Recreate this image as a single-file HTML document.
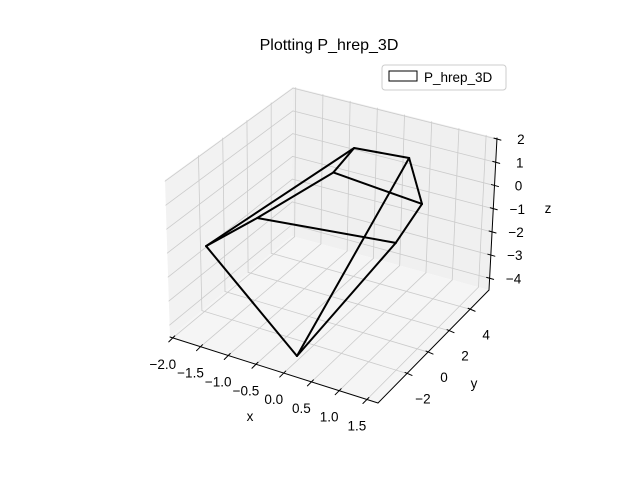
<!DOCTYPE html>
<html><head><meta charset="utf-8"><style>
body{margin:0;background:#fff}
svg text{font-family:"Liberation Sans","DejaVu Sans",sans-serif;fill:#000}
</style></head><body>
<svg id="chart" width="640" height="480" viewBox="0 0 640 480" xmlns="http://www.w3.org/2000/svg">
<rect width="640" height="480" fill="#fff"/>
<text x="329" y="50" font-size="16" text-anchor="middle">Plotting P_hrep_3D</text>
<g id="box"></g>
<g id="series"></g>
<g>
<rect x="382" y="65" width="124" height="25" rx="3" fill="#fff" fill-opacity="0.8" stroke="#ccc"/>
<rect x="389" y="71" width="28" height="10" fill="#fff" stroke="#000"/>
<text x="424" y="82" font-size="13.5">P_hrep_3D</text>
</g>
</svg>
<script>
const xTicks=[-2.0,-1.5,-1.0,-0.5,0.0,0.5,1.0,1.5];
const yTicks=[-2,0,2,4];
const zTicks=[-4,-3,-2,-1,0,1,2];
const xLabels=["−2.0","−1.5","−1.0","−0.5","0.0","0.5","1.0","1.5"];
const yLabels=["−2","0","2","4"];
const zLabels=["−4","−3","−2","−1","0","1","2"];
const vx=[-1.65,-1.65,-0.57,-0.29,0.60,0.75,0.59,0.11];
const vy=[-3.30,1.52,3.16,3.71,4.24,4.58,2.88,-4.09];
const vz=[-1,-2,0,1,1,-1,-2,-4];
const edgeFrom=[0,1,0,1,2,2,3,4,5,6,4,0];
const edgeTo=[1,2,3,6,3,5,4,5,6,7,7,7];
const XR=[-2.05,1.7],YR=[-4.76,5.8],ZR=[-4.5,2.05];
const C={"000":[170,337],"100":[378,403],"110":[489,290],"010":[292,236],"001":[165,180],"101":[383,246],"111":[497,138],"011":[293,87]};
function lerp(a,b,t){return [a[0]+(b[0]-a[0])*t,a[1]+(b[1]-a[1])*t];}
function proj(x,y,z){
 const u=(x-XR[0])/(XR[1]-XR[0]),v=(y-YR[0])/(YR[1]-YR[0]),w=(z-ZR[0])/(ZR[1]-ZR[0]);
 const a=lerp(lerp(C["000"],C["100"],u),lerp(C["010"],C["110"],u),v);
 const b=lerp(lerp(C["001"],C["101"],u),lerp(C["011"],C["111"],u),v);
 return lerp(a,b,w);
}
function projData(x,y,z){return [331.8+55.5*x+10.5*y-0.5*z,216.3+17.6*x-10.7*y-23.5*z];}
const NS="http://www.w3.org/2000/svg";
const box=document.getElementById('box'),ser=document.getElementById('series');
function line(g,p,q,col,w){const l=document.createElementNS(NS,'line');l.setAttribute('x1',p[0]);l.setAttribute('y1',p[1]);l.setAttribute('x2',q[0]);l.setAttribute('y2',q[1]);l.setAttribute('stroke',col);l.setAttribute('stroke-width',w);l.setAttribute('stroke-linecap','round');g.appendChild(l);return l;}
function poly(pts,fill){const p=document.createElementNS(NS,'polygon');p.setAttribute('points',pts.map(q=>q.join(',')).join(' '));p.setAttribute('fill',fill);box.appendChild(p);return p;}
function txt(x,y,s){const t=document.createElementNS(NS,'text');t.setAttribute('x',x);t.setAttribute('y',y);t.setAttribute('font-size','13.5');t.setAttribute('text-anchor','middle');t.textContent=s;box.appendChild(t);return t;}
let p;
p=poly([C["000"],C["010"],C["011"],C["001"]],'#f2f2f2');


p=poly([C["010"],C["110"],C["111"],C["011"]],'#f0f0f0');


p=poly([C["000"],C["100"],C["110"],C["010"]],'#f5f5f5');


const gc='#cbcbcb';
xTicks.forEach(x=>{
 let l=line(box,proj(x,YR[0],ZR[0]),proj(x,YR[1],ZR[0]),gc,0.8);
 
 
 l=line(box,proj(x,YR[1],ZR[0]),proj(x,YR[1],ZR[1]),gc,0.8);
 
 
});
yTicks.forEach(y=>{
 let l=line(box,proj(XR[0],y,ZR[0]),proj(XR[1],y,ZR[0]),gc,0.8);
 
 
 l=line(box,proj(XR[0],y,ZR[0]),proj(XR[0],y,ZR[1]),gc,0.8);
 
 
});
zTicks.forEach(z=>{
 let l=line(box,proj(XR[0],YR[0],z),proj(XR[0],YR[1],z),gc,0.8);
 
 
 l=line(box,proj(XR[0],YR[1],z),proj(XR[1],YR[1],z),gc,0.8);
 
 
});
let a;
a=line(box,C["000"],C["100"],'#000',1);


a=line(box,C["100"],C["110"],'#000',1);


a=line(box,C["110"],C["111"],'#000',1);


xTicks.forEach((x,i)=>{
 const q=proj(x,YR[0],ZR[0]);
 const l=line(box,[q[0]+2,q[1]-2],[q[0]-4,q[1]+4],'#000',1);
 
 
 const t=txt(q[0]-10,q[1]+31,xLabels[i]);
 
 
});
yTicks.forEach((y,i)=>{
 const q=proj(XR[1],y,ZR[0]);
 const l=line(box,[q[0]-2,q[1]-1],[q[0]+5,q[1]+2],'#000',1);
 
 
 const t=txt(q[0]+16,q[1]+30,yLabels[i]);
 
 
});
zTicks.forEach((z,i)=>{
 const q=proj(XR[1],YR[1],z);
 const l=line(box,[q[0]-3,q[1]-1],[q[0]+4,q[1]+1],'#000',1);
 
 
 const t=txt(q[0]+24,q[1]+5,zLabels[i]);
 
 
});
let t;
t=txt(250,421,'x');


t=txt(474,388,'y');


t=txt(548,213,'z');


edgeFrom.forEach((f,i)=>{
 const k=edgeTo[i];
 const l=line(ser,projData(vx[f],vy[f],vz[f]),projData(vx[k],vy[k],vz[k]),'#000',2);
 
 
});
</script>
</body></html>
